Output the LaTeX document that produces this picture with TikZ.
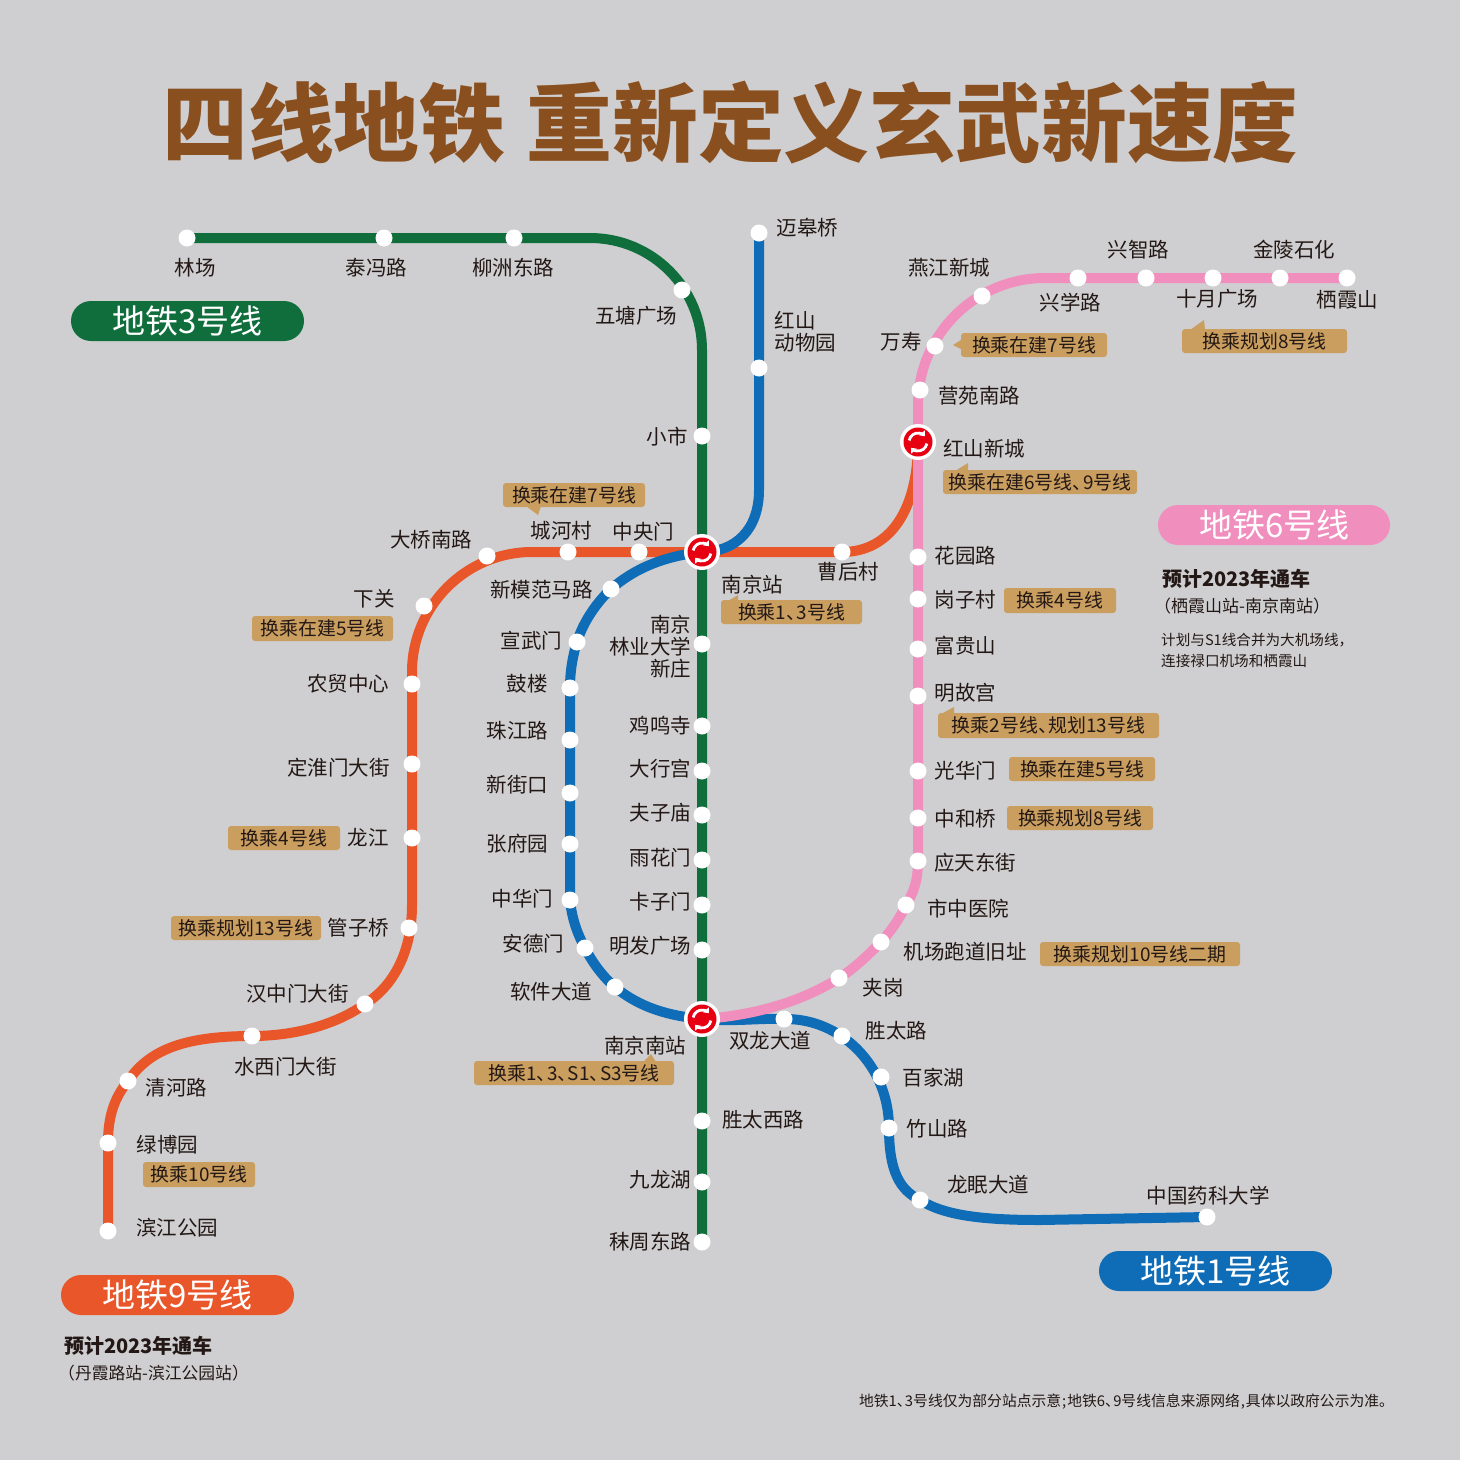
\documentclass[tikz,border=0pt]{standalone}
\usepackage{fontspec}
\usetikzlibrary{arrows.meta}
\setmainfont{Noto Sans CJK SC}
\newfontfamily\titlefont{Noto Sans CJK SC Black}
\definecolor{bgc}{HTML}{CFCFD1}
\definecolor{gl}{HTML}{0F6E3C}
\definecolor{bl}{HTML}{0F6CB6}
\definecolor{ol}{HTML}{E8562A}
\definecolor{pl}{HTML}{F08FBE}
\definecolor{tg}{HTML}{C99E5F}
\definecolor{ttl}{HTML}{8A4F1F}
\definecolor{tx}{HTML}{231815}
\definecolor{rd}{HTML}{E60012}
\pgfdeclarelayer{bg}
\pgfsetlayers{bg,main}
\newcounter{tn}
\newcommand{\dunh}{、\kern-.45em}
\newcommand{\st}[3]{\node[stn] (#1) at (#2,#3) {};}
\newcommand{\lb}[3]{\stepcounter{tn}\node[lab] (l\thetn) at (#1,#2) {#3};}
\newcommand{\tagb}[5]{\stepcounter{tn}\node[tagbox,minimum width={#3-#1},minimum height={#4-#2}] (t\thetn) at ({(#1+#3)/2},{(#2+#4)/2}) {\raisebox{-0.8pt}{#5}};}
\newcommand{\ic}[3]{\node[circle,fill=white,minimum size=36pt,inner sep=0pt] (#1) at (#2,#3) {};
 \begin{scope}[shift={(#2,#3)}]
 \fill[rd] (0,0) circle[radius=14.5pt];
 \draw[white,line width=2.8pt,-{Triangle[length=4.5pt,width=7.5pt]}] (170:9pt) arc[start angle=170,end angle=40,radius=9pt];
 \draw[white,line width=2.8pt,-{Triangle[length=4.5pt,width=7.5pt]}] (-10:9pt) arc[start angle=-10,end angle=-140,radius=9pt];
 \end{scope}}
\newcommand{\pill}[6]{\node[pillbox,fill=#5,minimum width={#3-#1},minimum height={#4-#2}] (#6) at ({(#1+#3)/2},{(#2+#4)/2}) {};}
\tikzset{
 stn/.style={circle,fill=white,minimum size=17pt,inner sep=0pt},
 lab/.style={inner sep=0pt,text=tx,xshift=0.3pt,yshift=-0.2pt,font=\fontsize{20.5}{24}\selectfont},
 tagbox/.style={fill=tg,rounded corners=3pt,inner sep=0pt,text=tx,font=\fontsize{18.9}{20}\selectfont},
 ptr/.style={fill=tg},
 pillbox/.style={rounded corners=20pt,inner sep=0pt},
 pilltext/.style={inner sep=0pt,text=white,xshift=0.3pt,yshift=-0.3pt,font=\fontsize{33}{36}\selectfont},
 info/.style={inner sep=0pt,anchor=west,text=tx},
 metro/.style={line width=10pt,line cap=round}
}
\begin{document}
\begin{tikzpicture}[x=1pt,y=-1pt]
\useasboundingbox (0,0) rectangle (1460,1460);
\begin{pgfonlayer}{bg}
\fill[bgc] (0,0) rectangle (1460,1460);
\end{pgfonlayer}
% title
\node[inner sep=0pt,text=ttl,font=\titlefont\fontsize{85.8}{90}\selectfont] (title) at (730.5,123) {四线地铁\hspace{21pt}重新定义玄武新速度};
% stations
\st{linchang}{187}{238}\st{taifeng}{384}{238}\st{liuzhou}{514}{238}\st{wutang}{682}{290}\st{xiaoshi}{702}{436}
\st{linye}{702}{644}\st{jiming}{702}{726}\st{daxing}{702}{771}\st{fuzi}{702}{815}\st{yuhua}{702}{860}\st{kazi}{702}{905}\st{mingfa}{702}{950}
\st{shengxi}{702}{1121}\st{jiulong}{702}{1182}\st{mozhou}{702}{1242}
\st{maigao}{759}{233}\st{hongshan}{759}{368}
\st{xinmofan}{611}{589}\st{xuanwu}{577}{642}\st{gulou}{570}{688}\st{zhujiang}{570}{740}\st{xinjie}{570}{793}\st{zhangfu}{570}{844}\st{zhonghua}{570}{900}\st{ande}{585}{948}\st{ruanjian}{615}{987}
\st{shuanglong}{784}{1019}\st{shengtai}{842}{1036}\st{baijia}{881}{1077}\st{zhushan}{889}{1128}\st{longmian}{920}{1200}\st{yaoke}{1207}{1217}
\st{binjiang}{108}{1231}\st{lvbo}{108}{1143}\st{qinghe}{128}{1081}\st{shuixi}{252}{1036}\st{hanzhong}{365}{1004}\st{guanzi}{409}{928}\st{longjiang}{412}{838}\st{dinghuai}{412}{764}\st{nongmao}{412}{684}\st{xiaguan}{424}{606}\st{daqiao}{487}{556}\st{chenghe}{568}{552}\st{zhongyang}{639}{552}\st{caohou}{842}{552}
\st{qixia}{1347}{278}\st{jinling}{1280}{278}\st{shiyue}{1213}{278}\st{xingzhi}{1146}{278}\st{xingxue}{1078}{278}\st{yanjiang}{982}{296}\st{wanshou}{935}{346}\st{yingyuan}{920}{390}
\st{huayuan}{918}{557}\st{gangzi}{918}{599}\st{fugui}{918}{649}\st{minggu}{918}{696}\st{guanghua}{918}{771}\st{zhonghe}{918}{818}\st{yingtian}{918}{861}\st{shizhong}{906}{905}\st{jichang}{881}{942}\st{jiagang}{839}{978}
\ic{nanjing}{702}{552}
\ic{nanjingnan}{702}{1019}
\ic{hongshanxc}{918}{442}
% lines
\begin{pgfonlayer}{bg}
\draw[metro,gl] (linchang.center) -- (590,238) .. controls (652,238) and (702,288) .. (702,350) -- (mozhou.center);
\draw[metro,ol] (binjiang.center) -- (lvbo.center) .. controls (108,1115) and (115,1097) .. (qinghe.center) .. controls (148,1052) and (180,1036) .. (shuixi.center) .. controls (300,1036) and (340,1022) .. (hanzhong.center) .. controls (395,985) and (412,950) .. (412,905) -- (412,672) .. controls (412,606) and (466,552) .. (532,552) -- (caohou.center) .. controls (890,552) and (918,510) .. (hongshanxc.center);
\draw[metro,bl] (maigao.center) -- (759,490) .. controls (759,530) and (735,552) .. (nanjing.center) .. controls (665,556) and (635,568) .. (xinmofan.center) .. controls (597,602) and (583,622) .. (xuanwu.center) .. controls (573,655) and (570,670) .. (gulou.center) -- (zhonghua.center) .. controls (572,920) and (578,935) .. (ande.center) .. controls (592,962) and (603,977) .. (ruanjian.center) .. controls (640,1008) and (670,1016) .. (nanjingnan.center) .. controls (730,1022) and (760,1018) .. (shuanglong.center) .. controls (840,1018) and (889,1065) .. (zhushan.center) .. controls (889,1172) and (900,1190) .. (longmian.center) .. controls (945,1216) and (985,1220) .. (1040,1220) -- (yaoke.center);
\draw[metro,pl] (qixia.center) -- (1045,278) .. controls (975,278) and (918,335) .. (918,405) -- (yingtian.center) .. controls (918,880) and (914,892) .. (shizhong.center) .. controls (899,920) and (890,932) .. (jichang.center) .. controls (868,955) and (855,968) .. (jiagang.center) .. controls (800,1003) and (750,1016) .. (nanjingnan.center);
\end{pgfonlayer}
% station labels
\lb{195}{267}{林场}\lb{376}{267}{泰冯路}\lb{513}{267}{柳洲东路}\lb{636}{316}{五塘广场}\lb{667}{436}{小市}\lb{807}{228}{迈皋桥}
\stepcounter{tn}\node[lab,align=left,anchor=north west,font=\fontsize{20.5}{22}\selectfont] (l\thetn) at (774,311) {红山\\动物园};
\lb{949}{267}{燕江新城}\lb{1138}{249}{兴智路}\lb{1294}{249}{金陵石化}\lb{1070}{302}{兴学路}\lb{1217}{299}{十月广场}\lb{1347}{299}{栖霞山}\lb{901}{341}{万寿}\lb{979}{396}{营苑南路}\lb{984}{448}{红山新城}
\lb{965}{555}{花园路}\lb{965}{599}{岗子村}\lb{965}{645}{富贵山}\lb{965}{693}{明故宫}\lb{965}{770}{光华门}\lb{965}{819}{中和桥}\lb{975}{862}{应天东街}\lb{968}{908}{市中医院}\lb{965}{951}{机场跑道旧址}\lb{883}{987}{夹岗}
\lb{896}{1031}{胜太路}\lb{933}{1077}{百家湖}\lb{937}{1128}{竹山路}\lb{988}{1184}{龙眠大道}\lb{1208}{1195}{中国药科大学}\lb{770}{1040}{双龙大道}\lb{763}{1120}{胜太西路}\lb{660}{1180}{九龙湖}\lb{650}{1241}{秣周东路}\lb{645}{1045}{南京南站}\lb{752}{584}{南京站}\lb{848}{572}{曹后村}
\lb{643}{531}{中央门}\lb{561}{531}{城河村}\lb{431}{540}{大桥南路}\lb{541}{589}{新模范马路}\lb{374}{599}{下关}\lb{531}{640}{宣武门}\lb{527}{684}{鼓楼}\lb{517}{730}{珠江路}\lb{517}{784}{新街口}\lb{517}{843}{张府园}\lb{522}{898}{中华门}\lb{533}{943}{安德门}\lb{551}{991}{软件大道}
\stepcounter{tn}\node[lab,align=right,anchor=north east,font=\fontsize{20.5}{22}\selectfont] (l\thetn) at (691,615) {南京\\林业大学\\新庄};
\lb{660}{725}{鸡鸣寺}\lb{660}{768}{大行宫}\lb{660}{812}{夫子庙}\lb{660}{857}{雨花门}\lb{660}{901}{卡子门}\lb{650}{946}{明发广场}
\lb{348}{684}{农贸中心}\lb{338}{767}{定淮门大街}\lb{368}{837}{龙江}\lb{358}{928}{管子桥}\lb{297}{993}{汉中门大街}\lb{285}{1066}{水西门大街}\lb{176}{1087}{清河路}\lb{167}{1144}{绿博园}\lb{177}{1227}{滨江公园}
% tags with pointers
\fill[ptr] (961,340) -- (953,345) -- (961,349) -- cycle;
\tagb{961}{333}{1107}{357}{换乘在建7号线}
\fill[ptr] (1190,330) -- (1204,320) -- (1205,330) -- cycle;
\tagb{1182}{329}{1347}{353}{换乘规划8号线}
\fill[ptr] (955,471) -- (968,463) -- (968,471) -- cycle;
\tagb{943}{470}{1137}{494}{换乘在建6号线\dunh 9号线}
\tagb{1004}{588}{1116}{613}{换乘4号线}
\fill[ptr] (941,714) -- (954,707) -- (954,714) -- cycle;
\tagb{938}{713}{1159}{738}{换乘2号线\dunh 规划13号线}
\tagb{1009}{757}{1155}{781}{换乘在建5号线}
\tagb{1007}{806}{1153}{830}{换乘规划8号线}
\tagb{1040}{942}{1240}{966}{换乘规划10号线二期}
\fill[ptr] (526,506) -- (538,515) -- (541,506) -- cycle;
\tagb{503}{483}{645}{507}{换乘在建7号线}
\fill[ptr] (728,601) -- (738,595) -- (738,601) -- cycle;
\tagb{721}{600}{862}{624}{换乘1\dunh 3号线}
\tagb{252}{616}{393}{641}{换乘在建5号线}
\tagb{228}{826}{340}{850}{换乘4号线}
\tagb{171}{916}{321}{940}{换乘规划13号线}
\fill[ptr] (643,1062) -- (651,1054) -- (656,1062) -- cycle;
\tagb{474}{1061}{674}{1085}{换乘1\dunh 3\dunh S1\dunh S3号线}
\tagb{143}{1162}{255}{1187}{换乘10号线}
% line legends
\pill{71}{301}{304}{341}{gl}{p3}\node[pilltext] (p3t) at (p3) {地铁3号线};
\pill{1158}{505}{1390}{545}{pl}{p6}\node[pilltext] (p6t) at (p6) {地铁6号线};
\pill{61}{1275}{294}{1315}{ol}{p9}\node[pilltext] (p9t) at (p9) {地铁9号线};
\pill{1099}{1251}{1332}{1291}{bl}{p1}\node[pilltext] (p1t) at (p1) {地铁1号线};
% notes
\node[info,font=\bfseries\fontsize{20}{22}\selectfont] (n1) at (1162,579) {预计2023年通车};
\node[info,font=\fontsize{17}{20}\selectfont] (n2) at (1154,606) {（栖霞山站-南京南站）};
\node[info,font=\fontsize{14.6}{18}\selectfont] (n3) at (1161,640) {计划与S1线合并为大机场线，};
\node[info,font=\fontsize{14.6}{18}\selectfont] (n4) at (1161,661) {连接禄口机场和栖霞山};
\node[info,font=\bfseries\fontsize{20}{22}\selectfont] (n5) at (64,1346) {预计2023年通车};
\node[info,font=\fontsize{16.8}{20}\selectfont] (n6) at (58,1373) {（丹霞路站-滨江公园站）};
\node[inner sep=0pt,text=tx,font=\fontsize{14.8}{18}\selectfont] (n7) at (1126.5,1402) {地铁1\dunh 3号线仅为部分站点示意\kern1pt;\kern1pt地铁6\dunh 9号线信息来源网络\kern1pt,\kern1pt具体以政府公示为准。};
\end{tikzpicture}
\end{document}
